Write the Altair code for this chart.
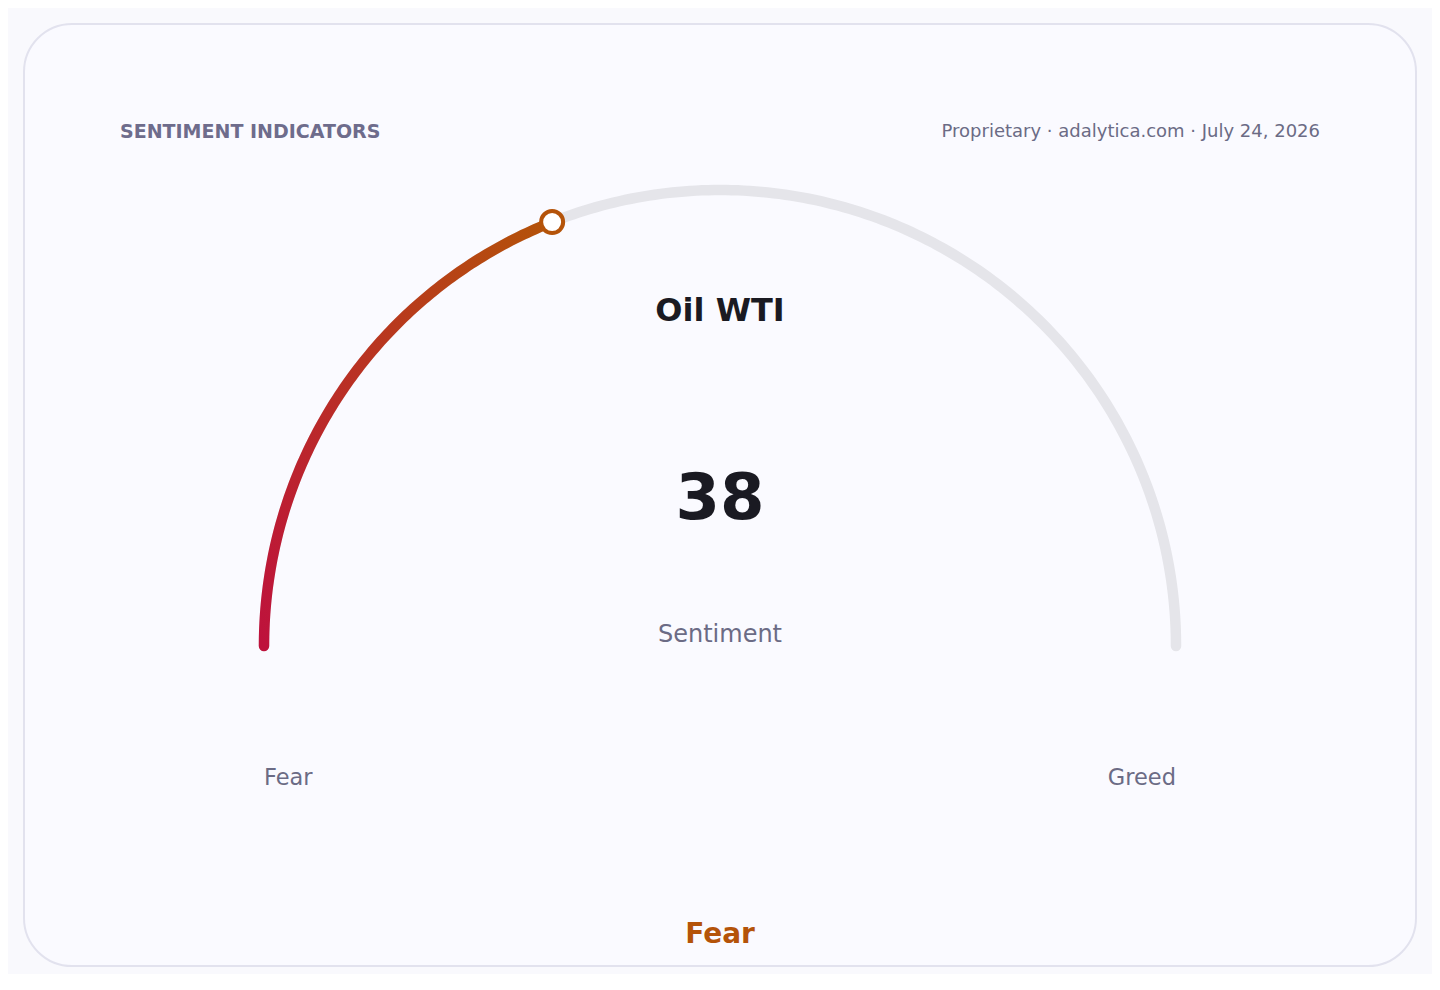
import altair as alt
import numpy as np
import pandas as pd

# ---- data ----
HEADER = ["SENTIMENT INDICATORS"]
SOURCE = ["Proprietary · adalytica.com · July 24, 2026"]
ASSET = ["Oil WTI"]
SCORE = [38]
SCALE_RANGE = [0, 100]
END_LABELS = ["Fear", "Greed"]
ZONE = ["Fear"]
METRIC = ["Sentiment"]

# ---- layout ----
R = 456
W, H = 1392, 942
CX, CY = 696, 622
FONT = "DejaVu Sans"
RED, ORANGE, TRACK = "#be123c", "#b45309", "#e5e5ea"
MUTED, DARK = "#6b6b85", "#1a1a22"

xs = alt.Scale(domain=[-CX, W - CX], nice=False, zero=False)
ys = alt.Scale(domain=[-(H - CY), CY], nice=False, zero=False)
X = lambda f: alt.X(f, type="quantitative", scale=xs, axis=None)
Y = lambda f: alt.Y(f, type="quantitative", scale=ys, axis=None)


def arc_points(s0, s1, n):
    s = np.linspace(s0, s1, n)
    th = np.pi * (1 - (s - SCALE_RANGE[0]) / (SCALE_RANGE[1] - SCALE_RANGE[0]))
    return pd.DataFrame({"x": R * np.cos(th), "y": R * np.sin(th), "o": np.arange(n)})


track = alt.Chart(arc_points(SCALE_RANGE[0], SCALE_RANGE[1], 241)).mark_line(
    stroke=TRACK, strokeWidth=10.5, strokeCap="round"
).encode(x=X("x"), y=Y("y"), order="o:Q")

value_arc = alt.Chart(arc_points(SCALE_RANGE[0], SCORE[0], 120)).mark_line(
    strokeWidth=10.5,
    strokeCap="round",
    stroke=alt.Gradient(
        gradient="linear",
        x1=0, y1=1, x2=1, y2=0,
        stops=[alt.GradientStop(color=RED, offset=0), alt.GradientStop(color=ORANGE, offset=1)],
    ),
).encode(x=X("x"), y=Y("y"), order="o:Q")

mk = arc_points(SCORE[0], SCORE[0], 1)
marker = alt.Chart(mk).mark_point(
    shape="circle", size=484, filled=True, fill="white", stroke=ORANGE, strokeWidth=4, opacity=1
).encode(x=X("x"), y=Y("y"))


def txt(df, **kw):
    return alt.Chart(df).mark_text(font=FONT, **kw).encode(x=X("x"), y=Y("y"), text="t:N")


header = alt.Chart(pd.DataFrame({"t": HEADER})).mark_text(
    font=FONT, fontSize=19, fontWeight="bold", color="#6e6c8c", align="left", baseline="alphabetic"
).encode(x=alt.value(96), y=alt.value(113.5), text="t:N")

source = alt.Chart(pd.DataFrame({"t": SOURCE})).mark_text(
    font=FONT, fontSize=18, color=MUTED, align="right", baseline="alphabetic"
).encode(x=alt.value(1296), y=alt.value(113), text="t:N")

asset = txt(pd.DataFrame({"t": ASSET, "x": [0], "y": [335]}),
            fontSize=32, fontWeight="bold", color=DARK, align="center", baseline="middle")
score = txt(pd.DataFrame({"t": [str(v) for v in SCORE], "x": [0], "y": [146]}),
            fontSize=64, fontWeight="bold", color=DARK, align="center", baseline="middle")
metric = txt(pd.DataFrame({"t": METRIC, "x": [0], "y": [11]}),
             fontSize=24, color=MUTED, align="center", baseline="middle")
left_lab = txt(pd.DataFrame({"t": [END_LABELS[0]], "x": [-R], "y": [-132]}),
               fontSize=22.5, color=MUTED, align="left", baseline="middle")
right_lab = txt(pd.DataFrame({"t": [END_LABELS[1]], "x": [R], "y": [-132]}),
                fontSize=22.5, color=MUTED, align="right", baseline="middle")
zone = txt(pd.DataFrame({"t": ZONE, "x": [0], "y": [-289]}),
           fontSize=28, fontWeight="bold", color=ORANGE, align="center", baseline="middle")

chart = alt.layer(
    track, value_arc, marker, header, source, asset, score, metric, left_lab, right_lab, zone
).properties(
    width=W, height=H,
    autosize=alt.AutoSizeParams(type="none"),
    padding={"left": 16, "top": 16, "right": 16, "bottom": 8},
    background="#f9f9fd",
).configure_view(
    fill="#fafaff", stroke="#e2e2ee", strokeWidth=2, cornerRadius=48
)

chart.save("out.html", embed_options={"renderer": "svg", "actions": False})
